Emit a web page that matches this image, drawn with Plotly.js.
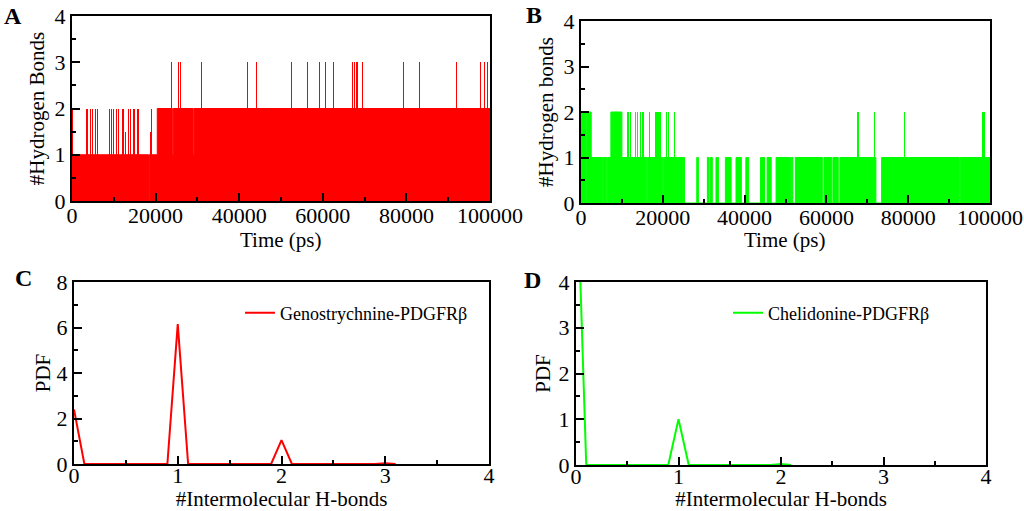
<!DOCTYPE html>
<html>
<head>
<meta charset="utf-8">
<script src="https://cdn.plot.ly/plotly-3.0.1.min.js"></script>
<style>
  html, body { margin: 0; padding: 0; background: #fff; }
  #chart { width: 1024px; height: 511px; }
</style>
</head>
<body>
<div id="chart"></div>
<script>
// A: Genostrychnine H-bond count vs time, step levels (time in ps, bonds)
const aStepX = [0, 18300, 18450, 20400, 24000, 24200, 29000, 29200, 100000];
const aStepY = [1, 0, 1, 2, 1, 2, 1, 2, 2];
// A: short excursions above the running level
const aSpikeX = [200, 3400, 3700, 4400, 4900, 5700, 6000, 9000, 9400, 9900, 10600, 11200, 12000, 12400, 12700,
  13600, 13900, 14700, 15000, 15600, 15900, 18800, 19100,
  23800, 25400, 26000, 30900, 41900, 44200, 52400, 56300, 59200, 60600, 62500, 67200, 67500, 68000, 68400,
  69400, 79400, 83100, 92000, 97700, 98600, 99400];
const aSpikeY = [2, 2, 2, 2, 2, 2, 2, 2, 2, 2, 2, 2, 2, 2, 1.5,
  2, 2, 2, 2, 2, 2, 1.5, 2,
  3, 3, 3, 3, 3, 3, 3, 3, 3, 3, 3, 3, 3, 3, 3,
  3, 3, 3, 3, 3, 3, 3];

// B: Chelidonine H-bond count vs time
const bStepX = [0, 1100, 1300, 2500, 5300, 5500, 6300, 6500, 7300, 10000, 16100, 16300, 19900, 20100, 25300,
  28300, 28700, 30900, 31300, 31600, 32100, 33000, 33600, 35300, 36700, 37900, 39200, 40300, 41000,
  43900, 44900, 45500, 46500, 47700, 51200, 51400, 51800, 52400, 59000, 59400, 61300, 61600, 62900,
  63300, 72100, 73500, 92500, 92700, 100000];
const bStepY = [2, 0, 2, 1, 0, 1, 0, 1, 2, 1, 0, 1, 0, 1, 0,
  1, 0, 1, 0, 1, 0, 1, 0, 1, 0, 1, 0, 1, 0,
  1, 0, 1, 0, 1, 0, 1, 0, 1, 0, 1, 0, 1, 0,
  1, 0, 1, 0, 1, 1];
const bSpikeX = [11500, 12100, 13300, 13800, 14600, 15200, 16700, 18300, 18800, 19300, 20900, 21400, 22900,
  67700, 71700, 79100, 98300, 98600];
const bSpikeY = [2, 2, 2, 2, 2, 2, 2, 2, 2, 2, 2, 2, 2, 2, 2, 2, 2, 2];

// C, D: probability density of the number of intermolecular H-bonds
const cX = [0, 0.1, 0.9, 1, 1.1, 1.9, 2, 2.1, 2.9, 3, 3.1];
const cY = [2.4, 0, 0, 6.15, 0, 0, 1.05, 0, 0, 0.03, 0];
const dX = [0, 0.1, 0.9, 1, 1.1, 1.9, 2, 2.1];
const dY = [7, 0, 0, 1.0, 0, 0, 0.02, 0];

const RED = "#ff0000";
const GREEN = "#00ff00";
const FONT = "Liberation Serif, Times New Roman, serif";

function stepTrace(x, y, color, xa, ya) {
  return {
    type: "scatter", mode: "lines", x, y, xaxis: xa, yaxis: ya,
    line: { shape: "hv", color, width: 1 }, fill: "tozeroy", fillcolor: color,
    showlegend: false, hoverinfo: "skip",
  };
}

function spikeTrace(x, y, color, width, xa, ya) {
  return {
    type: "bar", x, y, xaxis: xa, yaxis: ya, width,
    marker: { color, line: { width: 0 } }, showlegend: false, hoverinfo: "skip",
  };
}

function axis(anchor, domain, range, dtick, minor, title, standoff, labelShift) {
  return {
    anchor, domain, range, dtick, tick0: 0, tickformat: "d",
    ticks: "inside", ticklen: 8, tickwidth: 2, tickcolor: "#000",
    minor: { dtick: minor, ticks: "inside", ticklen: 4, tickwidth: 2, tickcolor: "#000", showgrid: false },
    showline: true, linewidth: 2, linecolor: "#000", mirror: true,
    showgrid: false, zeroline: false, fixedrange: true,
    ticklabelstandoff: labelShift,
    tickfont: { family: FONT, size: 22, color: "#000" },
    title: { text: title, font: { family: FONT, size: 21, color: "#000" }, standoff },
  };
}

const traces = [
  stepTrace(aStepX, aStepY, RED, "x", "y"),
  spikeTrace(aSpikeX, aSpikeY, RED, 250, "x", "y"),
  stepTrace(bStepX, bStepY, GREEN, "x2", "y2"),
  spikeTrace(bSpikeX, bSpikeY, GREEN, 350, "x2", "y2"),
  {
    type: "scatter", mode: "lines", x: cX, y: cY, xaxis: "x3", yaxis: "y3",
    name: "Genostrychnine-PDGFRβ", line: { color: RED, width: 2 }, legend: "legend",
  },
  {
    type: "scatter", mode: "lines", x: dX, y: dY, xaxis: "x4", yaxis: "y4",
    name: "Chelidonine-PDGFRβ", line: { color: GREEN, width: 2 }, legend: "legend2",
  },
];

const note = (text, x, y, size) => ({
  text, xref: "paper", yref: "paper", x: x / 1024, y: 1 - y / 511,
  xanchor: "center", yanchor: "middle",
  showarrow: false, font: { family: FONT, size, color: "#000" },
});

const layout = {
  width: 1024, height: 511,
  margin: { l: 0, r: 0, t: 0, b: 0 },
  paper_bgcolor: "#fff", plot_bgcolor: "#fff",
  bargap: 0,
  xaxis: axis("y", [72 / 1024, 490 / 1024], [0, 100000], 20000, 10000, "", 0, -6),
  yaxis: axis("x", [1 - 201 / 511, 1 - 16 / 511], [0, 4], 1, 0.5, "#Hydrogen Bonds", 4, 0),
  xaxis2: axis("y2", [581 / 1024, 990 / 1024], [0, 100000], 20000, 10000, "", 0, -6),
  yaxis2: axis("x2", [1 - 203 / 511, 1 - 21 / 511], [0, 4], 1, 0.5, "#Hydrogen bonds", 4, 0),
  xaxis3: axis("y3", [74 / 1024, 489 / 1024], [0, 4], 1, 0.5, "#Intermolecular H-bonds", 10, -9),
  yaxis3: axis("x3", [1 - 464 / 511, 1 - 282 / 511], [0, 8], 2, 1, "PDF", 0, 0),
  xaxis4: axis("y4", [576 / 1024, 986 / 1024], [0, 4], 1, 0.5, "#Intermolecular H-bonds", 10, -9),
  yaxis4: axis("x4", [1 - 465 / 511, 1 - 282 / 511], [0, 4], 1, 0.5, "PDF", 2, 0),
  legend: {
    x: 240 / 1024, y: 1 - 313 / 511, xanchor: "left", yanchor: "middle",
    bgcolor: "rgba(0,0,0,0)", font: { family: FONT, size: 18, color: "#000" },
  },
  legend2: {
    x: 728 / 1024, y: 1 - 313 / 511, xanchor: "left", yanchor: "middle",
    bgcolor: "rgba(0,0,0,0)", font: { family: FONT, size: 18, color: "#000" },
  },
  annotations: [
    note("<b>A</b>", 13, 16, 24),
    note("<b>B</b>", 534, 15, 24),
    note("<b>C</b>", 23, 278, 24),
    note("<b>D</b>", 532, 280, 24),
    note("Time (ps)", 281, 240, 21),
    note("Time (ps)", 785, 240, 21),
  ],
};

Plotly.newPlot("chart", traces, layout, { displayModeBar: false, staticPlot: true });
</script>
</body>
</html>
